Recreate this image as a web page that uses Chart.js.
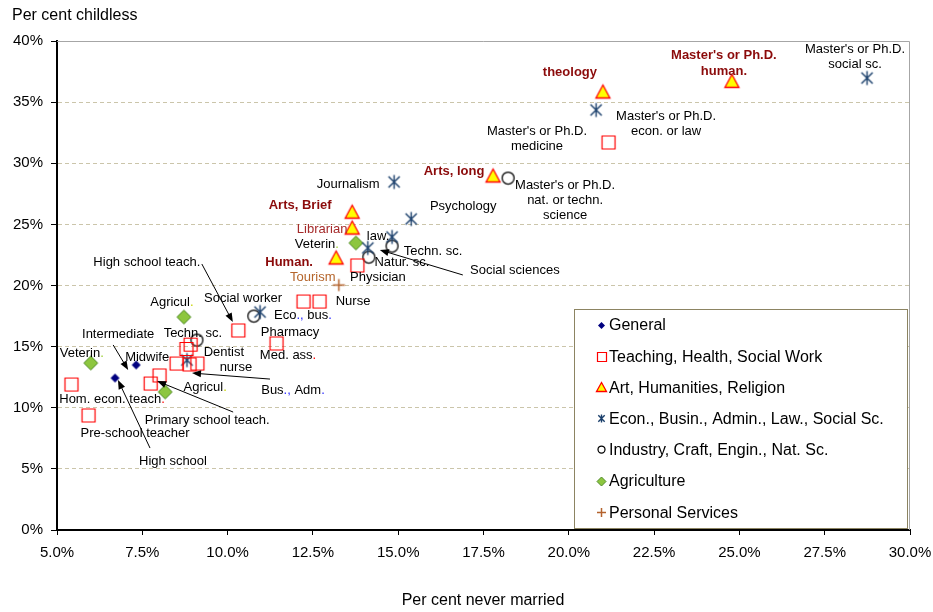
<!DOCTYPE html>
<html>
<head>
<meta charset="utf-8">
<script src="https://cdn.jsdelivr.net/npm/chart.js@4.4.1/dist/chart.umd.min.js"></script>
<style>
  html, body { margin: 0; padding: 0; background: #fff; }
  #wrap { width: 933px; height: 612px; }
</style>
</head>
<body>
<div id="wrap"><canvas id="chart" width="933" height="612"></canvas></div>
<script>
// each point: [per cent never married, per cent childless]
const general = [[6.70, 12.43], [7.32, 13.50]];
const teaching = [
  [5.41, 11.94], [5.91, 9.41], [7.73, 12.02], [7.99, 12.68], [8.49, 13.66],
  [8.78, 14.85], [8.90, 15.20], [8.87, 13.58], [9.10, 13.66], [10.30, 16.36],
  [11.42, 15.30], [12.21, 18.73], [12.68, 18.73], [13.79, 21.68], [21.15, 31.74]
];
const art = [[13.18, 22.25], [13.65, 24.70], [13.65, 26.00], [17.78, 28.96], [21.00, 35.83], [24.78, 36.70]];
const econ = [
  [8.81, 13.90], [10.95, 17.83], [14.11, 23.07], [14.82, 23.97],
  [14.88, 28.47], [15.38, 25.44], [20.80, 34.36], [28.74, 36.97]
];
const industry = [[9.10, 15.54], [10.77, 17.50], [14.14, 22.33], [14.82, 23.23], [18.22, 28.79]];
const agriculture = [[5.99, 13.66], [8.17, 11.29], [8.72, 17.42], [13.76, 23.48]];
const personal = [[13.26, 20.04]];

const seriesNames = [
  'General', 'Teaching, Health, Social Work', 'Art, Humanities, Religion',
  'Econ., Busin., Admin., Law., Social Sc.', 'Industry, Craft, Engin., Nat. Sc.',
  'Agriculture', 'Personal Services'
];
const xTickLabels = ['5.0%', '7.5%', '10.0%', '12.5%', '15.0%', '17.5%', '20.0%', '22.5%', '25.0%', '27.5%', '30.0%'];
const yTickLabels = ['0%', '5%', '10%', '15%', '20%', '25%', '30%', '35%', '40%'];

const FONT = '"Liberation Sans", Arial, sans-serif';
const K = '#000', BLUE = '#2a2aff', RED = '#ff0000';

// text next to points: series, index, lines, offset from the point (px), optional arrow
const notes = [
  { s: 2, i: 4, t: ['theology'], dx: -33, dy: -20, st: 'bold' },
  { s: 2, i: 5, t: ["Master's or Ph.D.", 'human.'], dx: -8, dy: -26, st: 'bold', lh: 16 },
  { s: 3, i: 7, t: ["Master's or Ph.D.", 'social sc.'], dx: -12, dy: -29 },
  { s: 3, i: 6, t: ["Master's or Ph.D.", 'econ. or law'], dx: 70, dy: 6 },
  { s: 1, i: 14, t: ["Master's or Ph.D.", 'medicine'], dx: -71, dy: -11 },
  { s: 4, i: 4, t: ["Master's or Ph.D.", 'nat. or techn.', 'science'], dx: 57, dy: 7 },
  { s: 2, i: 3, t: ['Arts, long'], dx: -39, dy: -5, st: 'bold' },
  { s: 3, i: 4, t: ['Journalism'], dx: -46, dy: 2 },
  { s: 3, i: 5, t: ['Psychology'], dx: 52, dy: -13 },
  { s: 2, i: 2, t: ['Arts, Brief'], dx: -52, dy: -7, st: 'bold' },
  { s: 2, i: 1, t: ['Librarian'], dx: -30, dy: 1, st: 'lib' },
  { s: 5, i: 3, t: [[['Veterin', K], ['.', '#9acd32']]], dx: -39, dy: 1 },
  { s: 3, i: 3, t: ['law.'], dx: -14, dy: -1 },
  { s: 4, i: 3, t: ['Techn. sc.'], dx: 41, dy: 5 },
  { s: 4, i: 2, t: ['Natur. sc.'], dx: 33, dy: 5 },
  { s: 3, i: 2, t: ['Social sciences'], dx: 147, dy: 22, arrow: [95, 27, 12, 2] },
  { s: 2, i: 0, t: ['Human.'], dx: -47, dy: 4, st: 'bold' },
  { s: 6, i: 0, t: ['Tourism'], dx: -26, dy: -8, st: 'tour' },
  { s: 1, i: 13, t: ['Physician'], dx: 21, dy: 12 },
  { s: 1, i: 12, t: ['Nurse'], dx: 34, dy: 0 },
  { s: 1, i: 11, t: ['Social worker'], dx: -60, dy: -3 },
  { s: 3, i: 1, t: [[['Eco', K], ['.,', BLUE], [' bus', K], ['.', BLUE]]], dx: 43, dy: 3 },
  { s: 1, i: 10, t: ['Pharmacy'], dx: 14, dy: -11 },
  { s: 1, i: 10, t: [[['Med. ass', K], ['.', RED]]], dx: 12, dy: 12 },
  { s: 1, i: 9, t: ['High school teach.'], dx: -91, dy: -68, arrow: [-36, -66, -5, -8] },
  { s: 5, i: 2, t: [[['Agricul', K], ['.', '#c8d400']]], dx: -12, dy: -15 },
  { s: 4, i: 0, t: ['Techn. sc.'], dx: -4, dy: -7 },
  { s: 0, i: 1, t: ['Intermediate'], dx: -18, dy: -31, arrow: [-23, -20, -8, 5] },
  { s: 0, i: 1, t: ['Midwife'], dx: 11, dy: -8 },
  { s: 5, i: 0, t: [[['Veterin', K], ['.', '#9acd32']]], dx: -9, dy: -10 },
  { s: 1, i: 8, t: ['Dentist'], dx: 27, dy: -11 },
  { s: 1, i: 8, t: ['nurse'], dx: 39, dy: 4 },
  { s: 5, i: 1, t: [[['Agricul', K], ['.', '#c8d400']]], dx: 40, dy: -5 },
  { s: 3, i: 0, t: [[['Bus', K], ['.,', BLUE], [' Adm', K], ['.', BLUE]]], dx: 106, dy: 30, arrow: [83, 19, 5, 13] },
  { s: 1, i: 0, t: [[['Hom. econ. teach', K], ['.', RED]]], dx: 41, dy: 15 },
  { s: 1, i: 1, t: ['Pre-school teacher'], dx: 47, dy: 18 },
  { s: 1, i: 2, t: ['Primary school teach.'], dx: 57, dy: 37, arrow: [83, 29, 7, -2] },
  { s: 0, i: 0, t: ['High school'], dx: 58, dy: 83, arrow: [35, 70, 3, 2] }
];

const noteStyles = {
  normal: { color: '#000', weight: 'normal' },
  bold: { color: '#8b0a0a', weight: 'bold' },
  lib: { color: '#a52a2a', weight: 'normal' },
  tour: { color: '#b5652b', weight: 'normal' }
};

function makeMarker(kind, s) {
  const n = Math.ceil(s) + 5 + (Math.ceil(s) % 2);
  const c = document.createElement('canvas');
  c.width = n; c.height = n;
  const g = c.getContext('2d');
  const m = n / 2, h = s / 2;
  g.beginPath();
  if (kind === 'general') {
    g.moveTo(m, m - h); g.lineTo(m + h, m); g.lineTo(m, m + h); g.lineTo(m - h, m); g.closePath();
    g.fillStyle = '#000080'; g.fill();
  } else if (kind === 'teaching') {
    g.rect(m - h + 0.5, m - h + 0.5, s, s);
    g.strokeStyle = '#ff0000'; g.lineWidth = 1.2; g.stroke();
  } else if (kind === 'art') {
    g.moveTo(m, m - h); g.lineTo(m + h, m + h - 1); g.lineTo(m - h, m + h - 1); g.closePath();
    g.fillStyle = '#ffff00'; g.fill();
    g.strokeStyle = '#ff0000'; g.lineWidth = 1.3; g.stroke();
  } else if (kind === 'econ') {
    const a = h * 0.8;
    g.moveTo(m - a, m - a); g.lineTo(m + a, m + a);
    g.moveTo(m + a, m - a); g.lineTo(m - a, m + a);
    g.moveTo(m, m - h); g.lineTo(m, m + h);
    g.strokeStyle = '#1a3f6b'; g.lineWidth = 1.4; g.stroke();
  } else if (kind === 'industry') {
    g.arc(m, m, h, 0, Math.PI * 2);
    g.fillStyle = '#fff'; g.fill();
    g.strokeStyle = '#000'; g.lineWidth = 1.25; g.stroke();
  } else if (kind === 'agri') {
    g.moveTo(m, m - h); g.lineTo(m + h, m); g.lineTo(m, m + h); g.lineTo(m - h, m); g.closePath();
    g.fillStyle = '#8dc63f'; g.fill();
    g.strokeStyle = '#4f8a2a'; g.lineWidth = 1; g.stroke();
  } else if (kind === 'personal') {
    g.moveTo(m - h, m); g.lineTo(m + h, m);
    g.moveTo(m, m - h); g.lineTo(m, m + h);
    g.strokeStyle = '#b4632e'; g.lineWidth = 1.5; g.stroke();
  }
  return c;
}

const kinds = ['general', 'teaching', 'art', 'econ', 'industry', 'agri', 'personal'];
const bigSizes = [9, 13, 14, 14, 12, 14, 12];
const smallSizes = [7, 9, 10, 8, 7, 9, 9];
const bigMarkers = kinds.map((k, i) => makeMarker(k, bigSizes[i]));
const smallMarkers = kinds.map((k, i) => makeMarker(k, smallSizes[i]));

const allSeries = [general, teaching, art, econ, industry, agriculture, personal];
const datasets = allSeries.map((pts, i) => ({
  label: seriesNames[i],
  data: pts.map(p => ({ x: p[0], y: p[1] })),
  pointStyle: bigMarkers[i],
  pointRadius: 6,
  showLine: false
}));

function drawRichLine(ctx, line, cx, y, color) {
  const segs = typeof line === 'string' ? [[line, color]] : line;
  const total = segs.reduce((w, sg) => w + ctx.measureText(sg[0]).width, 0);
  let x = cx - total / 2;
  ctx.textAlign = 'left';
  segs.forEach(sg => {
    ctx.fillStyle = sg[1];
    ctx.fillText(sg[0], x, y);
    x += ctx.measureText(sg[0]).width;
  });
}

function drawArrow(ctx, x1, y1, x2, y2) {
  const ang = Math.atan2(y2 - y1, x2 - x1);
  const L = 9, W = 3.5;
  ctx.strokeStyle = '#000';
  ctx.fillStyle = '#000';
  ctx.lineWidth = 1;
  ctx.beginPath();
  ctx.moveTo(x1, y1);
  ctx.lineTo(x2 - Math.cos(ang) * L * 0.8, y2 - Math.sin(ang) * L * 0.8);
  ctx.stroke();
  ctx.beginPath();
  ctx.moveTo(x2, y2);
  ctx.lineTo(x2 - Math.cos(ang) * L + Math.sin(ang) * W, y2 - Math.sin(ang) * L - Math.cos(ang) * W);
  ctx.lineTo(x2 - Math.cos(ang) * L - Math.sin(ang) * W, y2 - Math.sin(ang) * L + Math.cos(ang) * W);
  ctx.closePath();
  ctx.fill();
}

const decor = {
  id: 'decor',
  beforeDatasetsDraw(chart) {
    const { ctx, chartArea: a } = chart;
    ctx.save();
    ctx.strokeStyle = '#a6a6a6';
    ctx.lineWidth = 1;
    ctx.beginPath();
    ctx.moveTo(a.left, a.top + 0.5);
    ctx.lineTo(a.right - 0.5, a.top + 0.5);
    ctx.lineTo(a.right - 0.5, a.bottom);
    ctx.stroke();
    ctx.restore();
  },
  afterDatasetsDraw(chart) {
    const { ctx } = chart;
    ctx.save();
    // titles
    ctx.font = '16px ' + FONT;
    ctx.fillStyle = '#000';
    ctx.textBaseline = 'middle';
    ctx.textAlign = 'left';
    ctx.fillText('Per cent childless', 12, 16);
    ctx.textAlign = 'center';
    ctx.fillText('Per cent never married', 483, 601);

    // point labels and arrows
    notes.forEach(n => {
      const el = chart.getDatasetMeta(n.s).data[n.i];
      const st = noteStyles[n.st || 'normal'];
      ctx.font = st.weight + ' 13px ' + FONT;
      ctx.textBaseline = 'middle';
      const lh = n.lh || 15;
      const y0 = el.y + n.dy;
      n.t.forEach((line, k) => drawRichLine(ctx, line, el.x + n.dx, y0 + k * lh, st.color));
      if (n.arrow) {
        const [fx, fy, tx, ty] = n.arrow;
        drawArrow(ctx, el.x + fx, el.y + fy, el.x + tx, el.y + ty);
      }
    });

    // legend box
    const lx = 574, ly = 309, lw = 333, lhgt = 219;
    ctx.fillStyle = '#fff';
    ctx.fillRect(lx, ly, lw, lhgt);
    ctx.strokeStyle = '#8c8462';
    ctx.lineWidth = 1;
    ctx.strokeRect(lx + 0.5, ly + 0.5, lw, lhgt);
    ctx.font = '16px ' + FONT;
    ctx.textAlign = 'left';
    ctx.textBaseline = 'middle';
    seriesNames.forEach((name, i) => {
      const y = 325 + i * 31.2;
      const mk = smallMarkers[i];
      ctx.drawImage(mk, Math.round(601 - mk.width / 2), Math.round(y - mk.height / 2));
      ctx.fillStyle = '#000';
      ctx.fillText(name, 609, y + 1);
    });
    ctx.restore();
  }
};

new Chart(document.getElementById('chart'), {
  type: 'scatter',
  data: { datasets },
  plugins: [decor],
  options: {
    responsive: false,
    animation: false,
    layout: { padding: { top: 41, right: 23, left: 0, bottom: 0 }, autoPadding: false },
    plugins: { legend: { display: false }, tooltip: { enabled: false } },
    scales: {
      x: {
        type: 'linear', min: 5, max: 30,
        afterFit(s) { s.height = 82; s.paddingLeft = 0; s.paddingRight = 0; },
        ticks: {
          stepSize: 2.5, padding: 9, color: '#000', maxRotation: 0,
          font: { size: 15, family: FONT },
          callback: (v, i) => xTickLabels[i]
        },
        grid: { drawOnChartArea: false, tickLength: 5, tickColor: '#000', tickWidth: 1 },
        border: { color: '#000', width: 2 }
      },
      y: {
        type: 'linear', min: 0, max: 40,
        afterFit(s) { s.width = 57; s.paddingTop = 0; s.paddingBottom = 0; },
        ticks: {
          stepSize: 5, padding: 8, color: '#000',
          font: { size: 15, family: FONT },
          callback: (v, i) => yTickLabels[i]
        },
        grid: { color: '#cbc5aa', lineWidth: 1, tickLength: 6, tickColor: '#000', tickWidth: 1, tickBorderDash: [] },
        border: { color: '#000', width: 2, dash: [4, 3] }
      }
    }
  }
});
</script>
</body>
</html>
